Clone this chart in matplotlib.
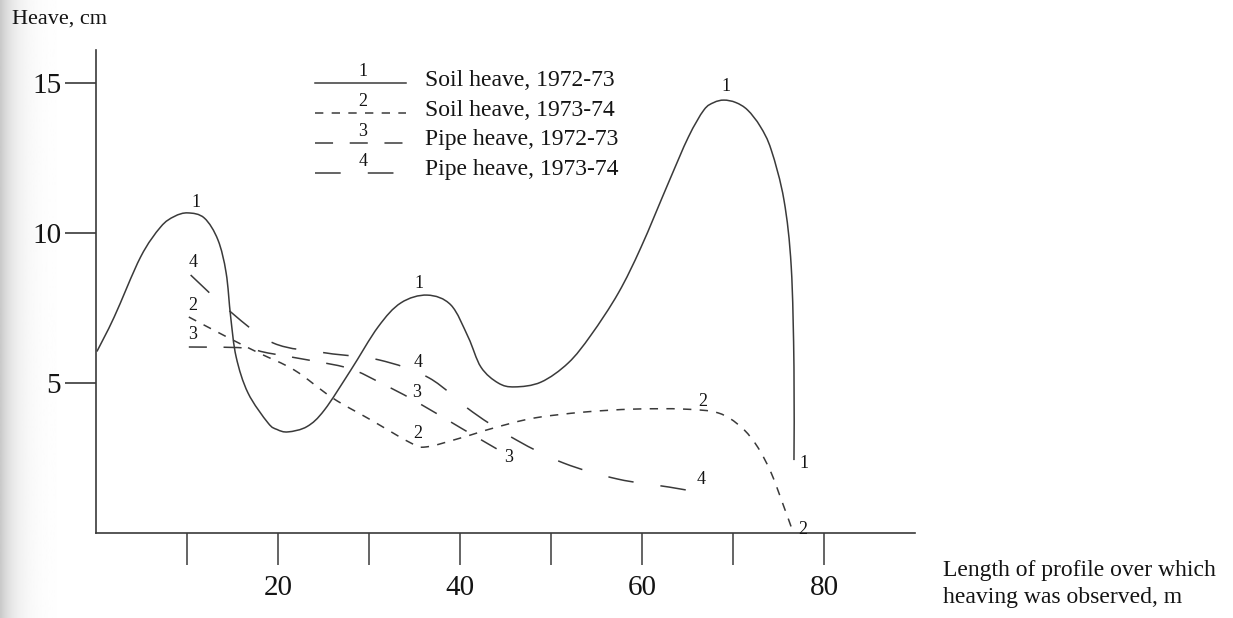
import numpy as np
import matplotlib
matplotlib.use("Agg")
import matplotlib.pyplot as plt
from matplotlib.lines import Line2D
from matplotlib.path import Path
from matplotlib.patches import PathPatch

# --- data (profile length, m / heave, cm) ---
soil_7273_x = [0.1, 2.0, 4.9, 7.1, 8.6, 10.1, 11.9, 13.4, 14.3, 14.8, 15.4, 16.7, 18.9,
               19.9, 21.1, 23.2, 25.1, 28.0, 31.0, 33.5, 36.4, 39.0, 40.9,
               42.3, 44.2, 46.0, 48.9, 51.9, 54.4, 57.4, 59.9, 62.9, 65.1, 66.8,
               67.9, 69.0, 70.3, 71.6, 73.0, 74.2, 75.6, 76.4, 76.7, 76.7]
soil_7273_y = [6.05, 7.2, 9.2, 10.2, 10.55, 10.67, 10.5, 9.77, 8.67, 7.2, 5.87, 4.67, 3.67,
               3.45, 3.37, 3.55, 4.1, 5.43, 6.87, 7.67, 7.93, 7.6, 6.53,
               5.53, 5.0, 4.87, 5.03, 5.67, 6.6, 8.0, 9.53, 11.67, 13.2, 14.1,
               14.35, 14.43, 14.35, 14.1, 13.55, 12.77, 11.1, 8.87, 5.53, 2.43]

soil_7374_x = [10.2, 14.6, 17.9, 21.8, 26.0, 30.2, 34.6, 36.3, 40.1, 43.7, 48.1, 53.6,
               59.1, 64.6, 68.4, 70.9, 72.7, 74.2, 75.6, 76.4]
soil_7374_y = [7.2, 6.5, 6.0, 5.43, 4.5, 3.77, 3.0, 2.87, 3.17, 3.5, 3.83, 4.03,
               4.13, 4.13, 4.0, 3.53, 2.87, 2.0, 0.87, 0.2]

pipe_7273_x = [10.2, 16.2, 18.9, 24.0, 28.0, 31.3, 34.9, 40.1, 44.8]
pipe_7273_y = [6.2, 6.17, 6.0, 5.73, 5.47, 5.0, 4.43, 3.5, 2.67]

pipe_7374_x = [10.4, 14.8, 19.5, 25.3, 31.1, 36.6, 41.4, 46.2, 51.4, 57.3, 63.0, 66.0]
pipe_7374_y = [8.6, 7.37, 6.33, 6.0, 5.77, 5.17, 4.03, 3.1, 2.33, 1.8, 1.53, 1.37]

series_names = ["Soil heave, 1972-73", "Soil heave, 1973-74",
                "Pipe heave, 1972-73", "Pipe heave, 1973-74"]

# curve number tags: (number, x, y)
curve_tags = [("1", 11.0, 11.03), ("1", 35.5, 8.3), ("1", 69.2, 14.87), ("1", 77.8, 2.33),
              ("4", 10.7, 9.03), ("2", 10.6, 7.6), ("3", 10.6, 6.63),
              ("4", 35.4, 5.7), ("3", 35.2, 4.67), ("2", 35.4, 3.33),
              ("3", 45.3, 2.5), ("2", 66.7, 4.4), ("4", 66.5, 1.8), ("2", 77.7, 0.1)]

x_ticks = [10, 20, 30, 40, 50, 60, 70, 80]
x_ticklabels = ["", "20", "", "40", "", "60", "", "80"]
y_ticks = [5, 10, 15]

# --- style ---
plt.rcParams["font.family"] = ["Liberation Serif", "DejaVu Serif"]
plt.rcParams["lines.scale_dashes"] = False
INK = "#3a3a3a"
TEXT = "#141414"

styles = [
    dict(linestyle="-"),
    dict(linestyle=(0, (6, 6))),
    dict(linestyle=(0, (13, 12))),
    dict(linestyle=(0, (18.5, 19.5))),
]


def smooth_path(xs, ys):
    """Cubic Bezier path passing through every given point (Catmull-Rom tangents)."""
    pts = np.column_stack([xs, ys]).astype(float)
    padded = np.vstack([pts[0], pts, pts[-1]])
    verts = [pts[0]]
    codes = [Path.MOVETO]
    for i in range(len(pts) - 1):
        p0, p1, p2, p3 = padded[i], padded[i + 1], padded[i + 2], padded[i + 3]
        verts += [p1 + (p2 - p0) / 6, p2 - (p3 - p1) / 6, p2]
        codes += [Path.CURVE4] * 3
    return Path(verts, codes)


W, H = 1233, 618
fig = plt.figure(figsize=(W / 100, H / 100), dpi=100)


def fx(px):
    return px / W


def fy(py):
    return 1 - py / H


# faint scanner shading down the left edge
shade = fig.add_axes([0, 0, fx(60), 1])
cols = np.arange(60)
grad = 1 - 0.21 * np.exp(-cols / 14.0)
shade.imshow(grad[None, :], cmap="gray", vmin=0, vmax=1, aspect="auto",
             extent=[0, 1, 0, 1])
shade.axis("off")

ax = fig.add_axes([fx(96), fy(533), fx(915 - 96), (533 - 50) / H])
ax.patch.set_alpha(0)

curves = [(soil_7273_x, soil_7273_y), (soil_7374_x, soil_7374_y),
          (pipe_7273_x, pipe_7273_y), (pipe_7374_x, pipe_7374_y)]
for (xs, ys), st in zip(curves, styles):
    ax.add_patch(PathPatch(smooth_path(xs, ys), facecolor="none", edgecolor=INK,
                           linewidth=1.1, joinstyle="round", capstyle="butt", **st))

for num, tx, ty in curve_tags:
    ax.text(tx, ty, num, fontsize=13, color=TEXT, ha="center", va="center")

ax.set_xlim(0, 90)
ax.set_ylim(0, 16.1)
for side in ["top", "right"]:
    ax.spines[side].set_visible(False)
for side in ["left", "bottom"]:
    ax.spines[side].set_color(INK)
    ax.spines[side].set_linewidth(1.2)

ax.set_xticks(x_ticks)
ax.set_xticklabels(x_ticklabels)
ax.set_yticks(y_ticks)
ax.tick_params(axis="y", direction="out", length=22, width=1.2, color=INK,
               labelsize=21, labelcolor=TEXT, pad=3)
ax.tick_params(axis="x", direction="out", length=23, width=1.1, color=INK,
               labelsize=21, labelcolor=TEXT, pad=7)

# axis captions
fig.text(fx(12), fy(19), "Heave, cm", fontsize=16, color=TEXT, ha="left", va="center")
fig.text(fx(943), fy(584), "Length of profile over which\nheaving was observed, m",
         fontsize=17, color=TEXT, ha="left", va="center", linespacing=1.4)

# hand-made key: numbered line sample and caption per row
key_rows = [83, 113, 143, 173]
for i, (name, st, row) in enumerate(zip(series_names, styles, key_rows)):
    fig.add_artist(Line2D([fx(315), fx(406)], [fy(row), fy(row)], color=INK,
                          linewidth=1.1, dash_capstyle="butt", **st))
    fig.text(fx(363), fy(row - 12), str(i + 1), fontsize=13, color=TEXT,
             ha="center", va="center",
             bbox=dict(facecolor="white", edgecolor="none", pad=1.5) if i else None)
    fig.text(fx(425), fy(row - 3), name, fontsize=17, color=TEXT,
             ha="left", va="center")

fig.savefig("out.png", dpi=100)
